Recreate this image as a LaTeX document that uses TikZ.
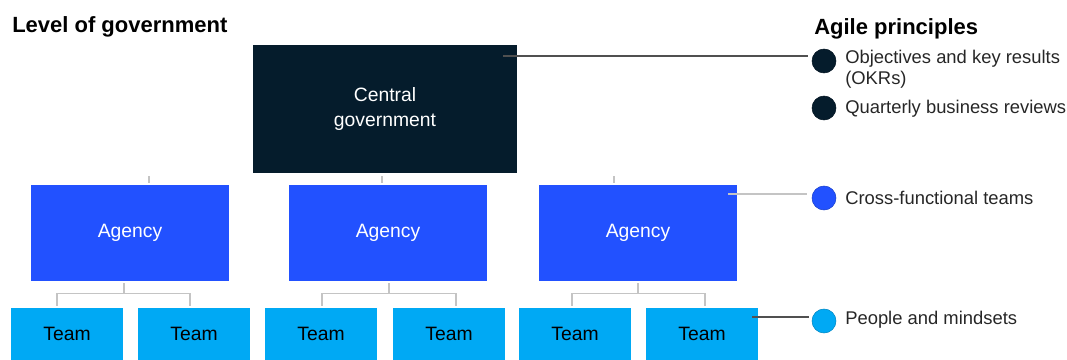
\documentclass[tikz,border=0pt]{standalone}
\usepackage{fontspec}
\setmainfont{Liberation Sans}
\usetikzlibrary{calc}
\definecolor{navy}{HTML}{051C2C}
\definecolor{agblue}{HTML}{2251FF}
\definecolor{teamcyan}{HTML}{00A9F4}
\definecolor{conngray}{HTML}{C4C4C4}
\definecolor{linedark}{HTML}{505050}
\begin{document}
\begin{tikzpicture}[x=0.75pt,y=-0.75pt,
  govbox/.style={fill=navy,text=white,inner sep=0pt,minimum width=198pt,minimum height=96pt,align=center,font=\fontsize{14.5}{18.75}\selectfont},
  agbox/.style={fill=agblue,text=white,inner sep=0pt,minimum width=148.5pt,minimum height=72pt,font=\fontsize{14.5}{17}\selectfont},
  teambox/.style={fill=teamcyan,text=black,inner sep=0pt,minimum width=84pt,minimum height=39pt,font=\fontsize{14.5}{17}\selectfont},
  conn/.style={draw=conngray,line width=0.9pt},
  pline/.style={draw=linedark,line width=0.8pt},
  plinelight/.style={draw=conngray,line width=0.8pt},
  dot/.style={circle,inner sep=0pt,minimum size=18pt,draw=#1!80!black,line width=0.4pt,fill=#1},
  legend/.style={anchor=west,inner sep=0pt,align=left,text=black!85,font=\fontsize{13.8}{15.5}\selectfont},
  heading/.style={anchor=west,inner sep=0pt,font=\bfseries\fontsize{16.5}{19}\selectfont}]
\useasboundingbox (0,0) rectangle (1067,360);

\node[heading] (h1) at (12,27) {Level of government};
\node[heading] (h2) at (814,29) {Agile principles};

\node[govbox] (cg) at (385,109) {Central\\government};

\node[agbox] (ag1) at (130,233) {Agency};
\node[agbox] (ag2) at (388,233) {Agency};
\node[agbox] (ag3) at (638,233) {Agency};

\node[teambox] (t1) at (67,334) {Team};
\node[teambox] (t2) at (194,334) {Team};
\node[teambox] (t3) at (321,334) {Team};
\node[teambox] (t4) at (449,334) {Team};
\node[teambox] (t5) at (575,334) {Team};
\node[teambox] (t6) at (702,334) {Team};

% stubs above agencies
\draw[conn] ([shift={(19,-2)}]ag1.north) -- ++(0,-7);
\draw[conn] ([shift={(-6,-2)}]ag2.north) -- ++(0,-7);
\draw[conn] ([shift={(-24,-2)}]ag3.north) -- ++(0,-7);

% agency to teams
\draw[conn] ([shift={(-6,2)}]ag1.south) -- ++(0,11);
\draw[conn] ([shift={(-10,-2)}]t1.north) -- ++(0,-12) -| ([shift={(-4,-2)}]t2.north);
\draw[conn] ([shift={(1,2)}]ag2.south) -- ++(0,11);
\draw[conn] ([shift={(1,-2)}]t3.north) -- ++(0,-12) -| ([shift={(7,-2)}]t4.north);
\draw[conn] ([shift={(0,2)}]ag3.south) -- ++(0,11);
\draw[conn] ([shift={(-3,-2)}]t5.north) -- ++(0,-12) -| ([shift={(3,-2)}]t6.north);

% legend
\node[dot=navy] (c1) at (824,61) {};
\node[dot=navy] (c2) at (824,108) {};
\node[dot=agblue] (c3) at (824,198) {};
\node[dot=teamcyan] (c4) at (824,321) {};

\node[legend] (l1) at (845,69) {Objectives and key results\\(OKRs)};
\node[legend] (l2) at (845,109) {Quarterly business reviews};
\node[legend] (l3) at (845,198) {Cross-functional teams};
\node[legend] (l4) at (845,320) {People and mindsets};

\coordinate (e1) at (808,56);
\coordinate (e3) at (807,194);
\coordinate (e4) at (809,317);
\draw[pline] (cg.north east |- e1) ++(-14,0) -- (e1);
\draw[plinelight] (ag3.north east |- e3) ++(-9,0) -- (e3);
\draw[pline] (t6.north east |- e4) ++(-6,0) -- (e4);
\end{tikzpicture}
\end{document}
